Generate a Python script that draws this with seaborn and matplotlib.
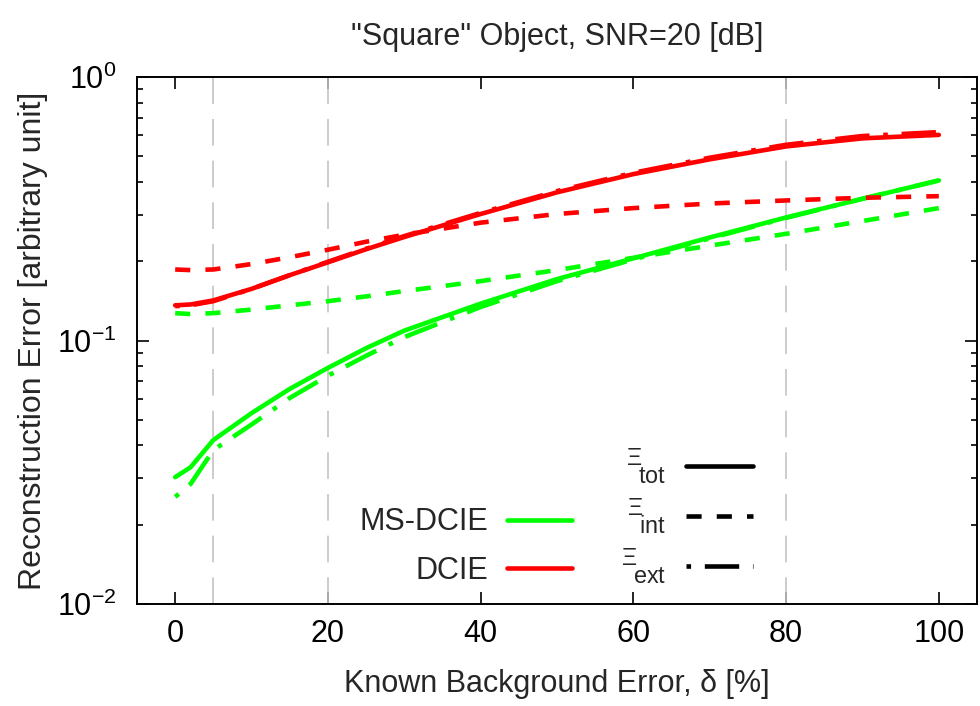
import numpy as np
import pandas as pd
import matplotlib
matplotlib.use("Agg")
import matplotlib.pyplot as plt
import seaborn as sns
from matplotlib.lines import Line2D
from matplotlib.ticker import NullFormatter, LogLocator

# Known background error, delta [%]
delta = [0, 2, 5, 10, 15, 20, 25, 30, 40, 50, 60, 70, 80, 90, 100]

# DCIE reconstruction errors
dcie_tot = [0.136, 0.137, 0.142, 0.157, 0.177, 0.198, 0.222, 0.247, 0.302, 0.365, 0.428, 0.487, 0.545, 0.585, 0.603]
dcie_int = [0.186, 0.185, 0.186, 0.195, 0.207, 0.221, 0.237, 0.252, 0.280, 0.302, 0.318, 0.331, 0.340, 0.348, 0.353]
dcie_ext = [0.135, 0.136, 0.141, 0.157, 0.177, 0.199, 0.223, 0.249, 0.305, 0.369, 0.433, 0.494, 0.553, 0.597, 0.618]

# MS-DCIE reconstruction errors
ms_tot = [0.0303, 0.0330, 0.0419, 0.0530, 0.0655, 0.0787, 0.0935, 0.109, 0.138, 0.171, 0.205, 0.246, 0.293, 0.345, 0.405]
ms_int = [0.127, 0.126, 0.127, 0.131, 0.136, 0.141, 0.147, 0.154, 0.168, 0.185, 0.206, 0.229, 0.254, 0.284, 0.318]
ms_ext = [0.0255, 0.0285, 0.0384, 0.0480, 0.0605, 0.0735, 0.0875, 0.103, 0.134, 0.168, 0.203, 0.244, 0.292, 0.345, 0.405]

methods = ["MS-DCIE", "DCIE"]
components = ["tot", "int", "ext"]
vlines_at = [5, 20, 80]

series = {
    ("MS-DCIE", "tot"): ms_tot,
    ("MS-DCIE", "int"): ms_int,
    ("MS-DCIE", "ext"): ms_ext,
    ("DCIE", "tot"): dcie_tot,
    ("DCIE", "int"): dcie_int,
    ("DCIE", "ext"): dcie_ext,
}
rows = []
for (m, c), vals in series.items():
    for d, v in zip(delta, vals):
        rows.append({"delta": d, "error": v, "method": m, "component": c})
df = pd.DataFrame(rows)

sns.set_theme(style="ticks")
plt.rcParams["font.family"] = ["Liberation Sans", "DejaVu Sans"]
plt.rcParams["mathtext.fontset"] = "custom"
plt.rcParams["mathtext.rm"] = "Liberation Sans"
plt.rcParams["mathtext.it"] = "Liberation Sans:italic"
plt.rcParams["mathtext.bf"] = "Liberation Sans:bold"

FS = 22
LW = 3.3
palette = {"MS-DCIE": "#00ff00", "DCIE": "#ff0000"}
dash_map = {"tot": "", "int": (3.3, 3.3), "ext": (1, 3, 7.5, 3)}

fig = plt.figure(figsize=(9.8, 7.06), dpi=100)
ax = fig.add_axes([137 / 980, 1 - 604 / 706, 840 / 980, 527 / 706])

for x in vlines_at:
    ax.axvline(x, color="#c4c4c4", lw=1.2, ls=(0, (16, 9)), zorder=1)

sns.lineplot(data=df, x="delta", y="error", hue="method", style="component",
             palette=palette, dashes=dash_map, lw=LW, estimator=None,
             sort=False, legend=False, ax=ax, zorder=3)

ax.set_yscale("log")
ax.set_xlim(-5, 105)
ax.set_ylim(0.01, 1.0)
ax.set_xticks([0, 20, 40, 60, 80, 100])
ax.yaxis.set_major_locator(LogLocator(base=10, numticks=5))
ax.yaxis.set_minor_locator(LogLocator(base=10, subs=np.arange(2, 10), numticks=20))
ax.yaxis.set_minor_formatter(NullFormatter())

for s in ax.spines.values():
    s.set_linewidth(1.4)
    s.set_color("black")
ax.tick_params(which="both", direction="in", top=True, right=True, colors="black", width=1.2)
ax.tick_params(which="major", length=8.5, labelsize=FS)
ax.tick_params(which="minor", length=4.5)
ax.tick_params(axis="x", pad=11)
ax.tick_params(axis="y", pad=15)

ax.set_xlabel("Known Background Error, δ [%]", fontsize=FS, labelpad=14)
ax.set_ylabel("Reconstruction Error [arbitrary unit]", fontsize=FS + 1, labelpad=6)
ax.set_title('"Square" Object, SNR=20 [dB]', fontsize=FS, pad=23)

# Method legend (colour)
h_methods = [Line2D([], [], color=palette[m], lw=LW) for m in methods]
leg1 = ax.legend(h_methods, methods, loc="lower right", bbox_to_anchor=(0.518, 0.035),
                 frameon=False, markerfirst=False, fontsize=FS, handlelength=2.12,
                 handletextpad=0.62, labelspacing=0.6, borderpad=0, borderaxespad=0)
ax.add_artist(leg1)

# Error component legend (line style)
comp_labels = [r"$^{\Xi}\!_{\mathrm{tot}}$", r"$^{\Xi}\!_{\mathrm{int}}$", r"$^{\Xi}\!_{\mathrm{ext}}$"]
h_comp = []
for c in components:
    ln = Line2D([], [], color="black", lw=LW)
    if dash_map[c]:
        ln.set_dashes(dash_map[c])
    h_comp.append(ln)
ax.legend(h_comp, comp_labels, loc="lower right", bbox_to_anchor=(0.733, 0.035),
          frameon=False, markerfirst=False, fontsize=FS + 2, handlelength=2.0,
          handletextpad=0.6, labelspacing=0.3, borderpad=0, borderaxespad=0)

fig.savefig("out.png", dpi=100)
